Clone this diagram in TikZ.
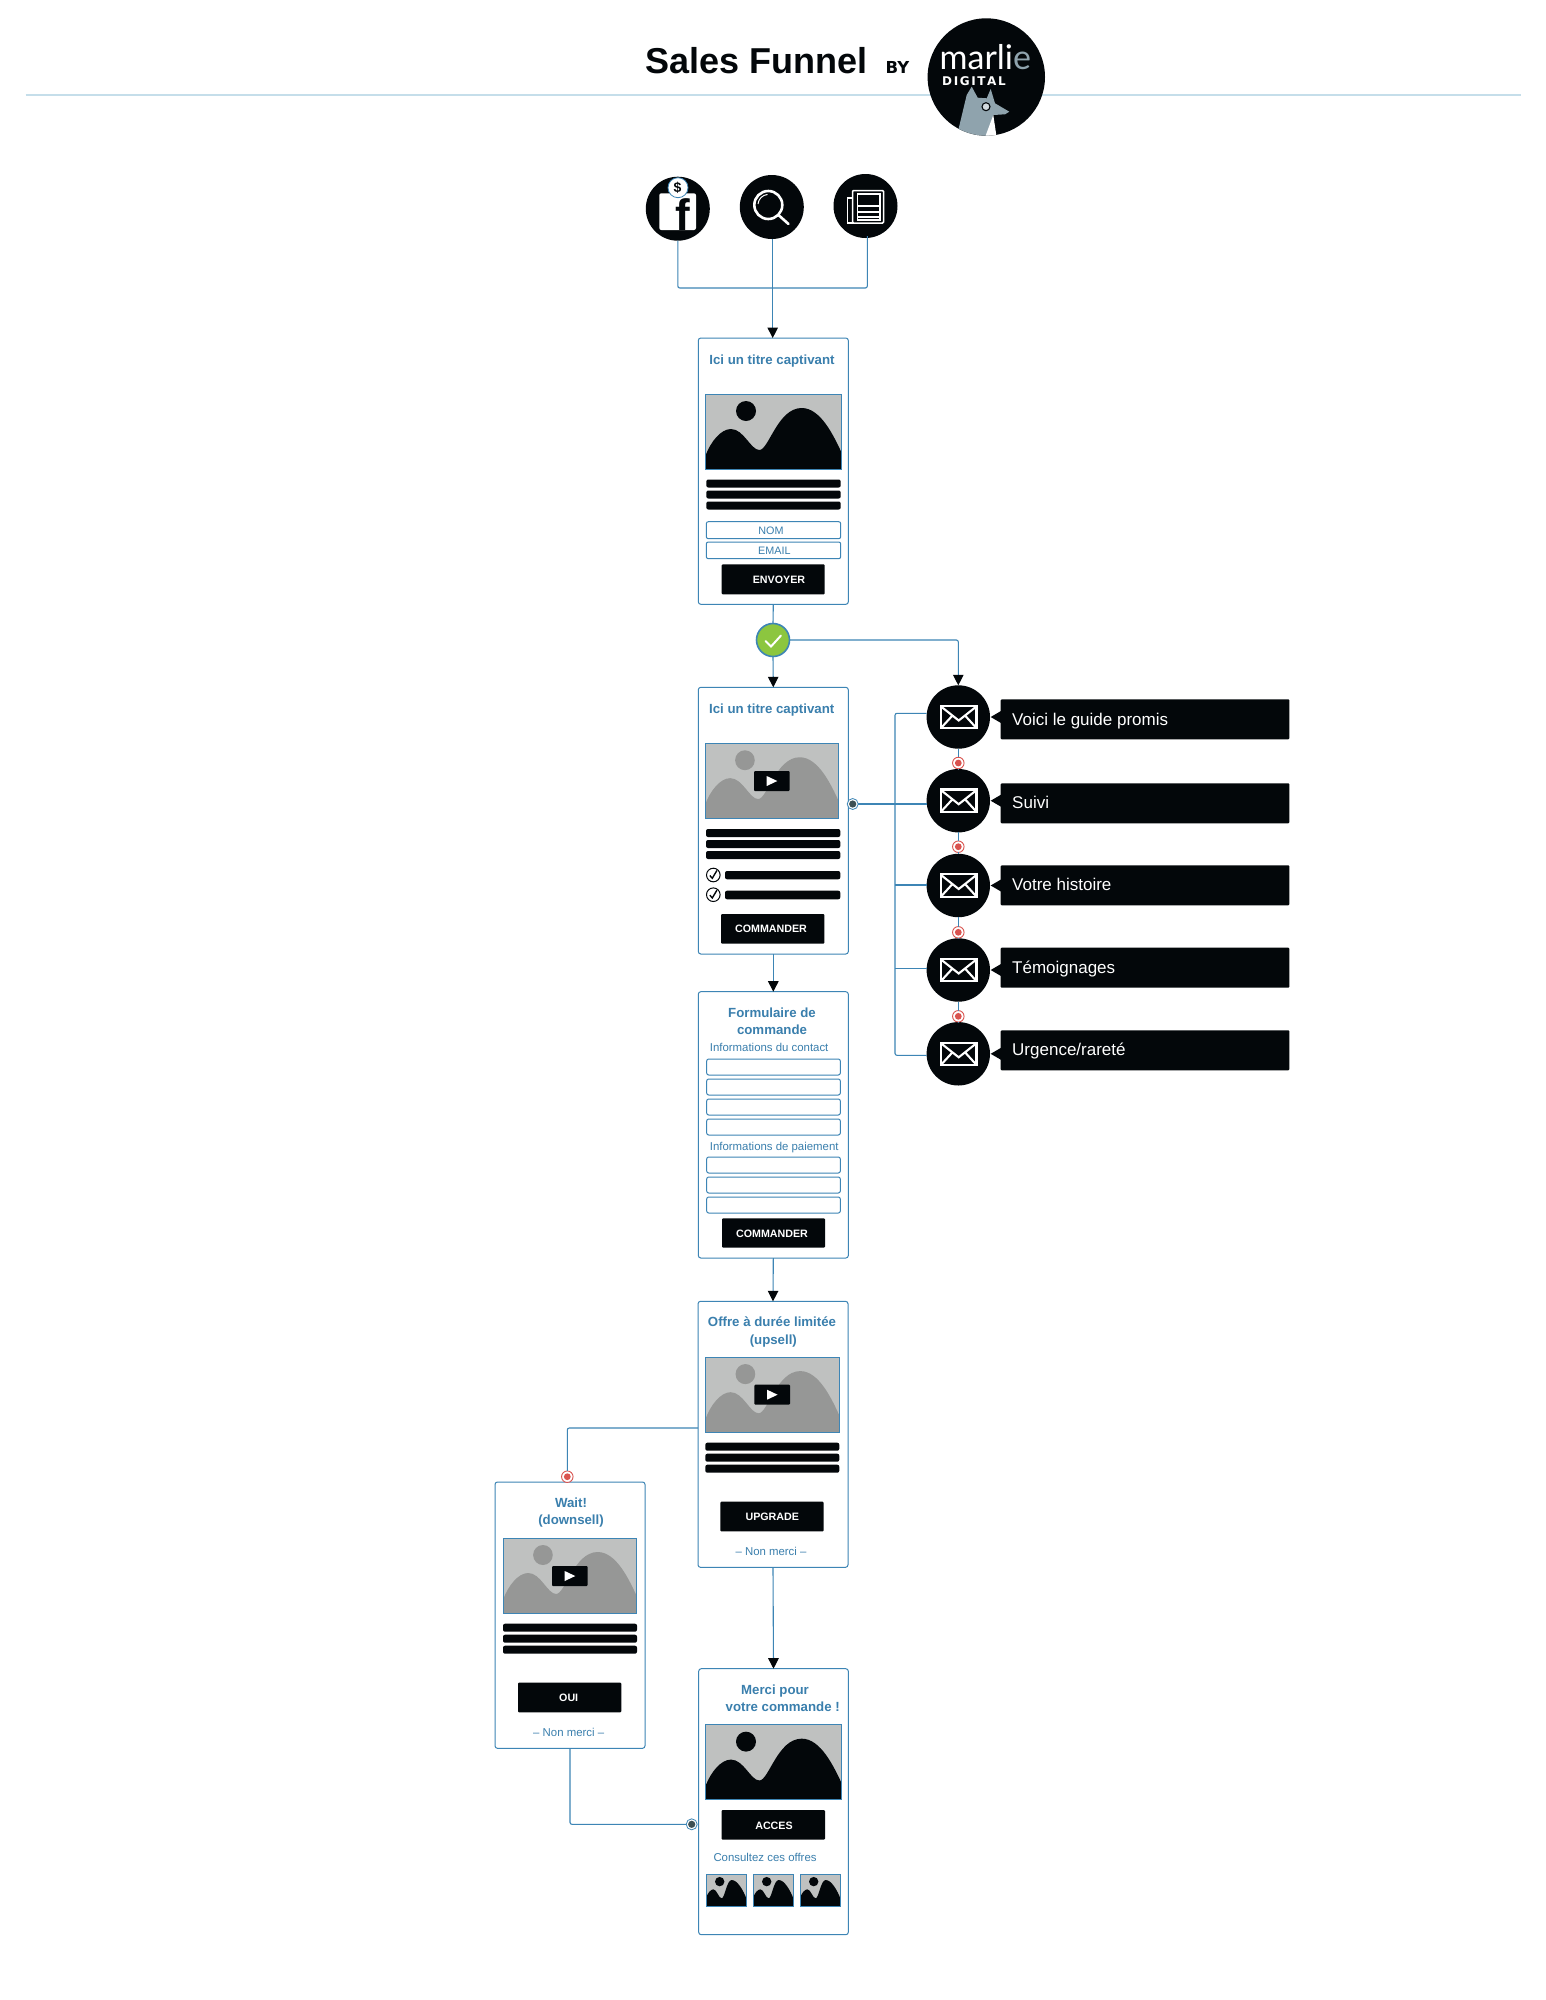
\documentclass[tikz,border=0pt]{standalone}
\usepackage{fontspec}
\setmainfont{Liberation Sans}
\newfontfamily\logofont{Lato}
\newfontfamily\handfont{DejaVu Sans}
\usetikzlibrary{arrows.meta}
\definecolor{fx}{HTML}{3D85B5}
\definecolor{ttl}{HTML}{3A7FAD}
\definecolor{ink}{HTML}{03070A}
\definecolor{imgbg}{HTML}{BFC1C0}
\definecolor{imgmid}{HTML}{969796}
\definecolor{rule}{HTML}{C5DEEA}
\definecolor{redn}{HTML}{D9534F}
\definecolor{grn}{HTML}{8CC63F}
\definecolor{fox}{HTML}{8FA3AD}
\definecolor{dotc}{HTML}{3D5054}
\tikzset{
  frame/.style={draw=fx,fill=white,line width=1pt,rounded corners=2.5pt,inner sep=0pt,outer sep=0pt},
  field/.style={draw=fx,fill=white,line width=1pt,rounded corners=2pt,inner sep=0pt,outer sep=0pt},
  barbox/.style={fill=ink,rounded corners=2pt,inner sep=0pt,outer sep=0pt},
  btn/.style={fill=ink,rounded corners=1pt,inner sep=0pt,outer sep=0pt},
  imgframe/.style={draw=fx,fill=imgbg,line width=1pt,inner sep=0pt,outer sep=0pt},
  disc/.style={circle,fill=ink,inner sep=0pt,outer sep=0pt},
  conn/.style={draw=fx,line width=1.1pt,rounded corners=2pt},
  arrow/.style={conn,-{Triangle[width=10.5pt,length=10.5pt,color=ink]}},
  ttlt/.style={text=ttl,font=\fontsize{13.25}{15}\selectfont\bfseries,inner sep=0pt,anchor=base},
  smt/.style={text=ttl,font=\fontsize{11.4}{13}\selectfont,inner sep=0pt,anchor=base},
  btnt/.style={text=white,font=\fontsize{10.7}{12}\selectfont\bfseries,inner sep=0pt},
  lblt/.style={text=white,font=\fontsize{17}{20}\selectfont,inner sep=0pt,anchor=base west},
}
% rectangle node given by its corners
\newcommand\RectN[6]{% style, name, x1,y1,x2,y2
  \pgfmathsetmacro\rw{(#5)-(#3)}\pgfmathsetmacro\rh{(#6)-(#4)}
  \node[#1,anchor=north west,minimum width=\rw pt,minimum height=\rh pt] (#2) at (#3,#4) {};}
\newcommand\Bars[5]{% name prefix, x1,x2, y1 of first, height
  \RectN{barbox}{#1a}{#2}{#4}{#3}{#4+#5}
  \RectN{barbox}{#1b}{#2}{#4+11}{#3}{#4+11+#5}
  \RectN{barbox}{#1c}{#2}{#4+22}{#3}{#4+22+#5}}
% landscape image: style colour of shapes
\newcommand\Img[6]{% name,x1,y1,x2,y2,shape colour
  \RectN{imgframe}{#1}{#2}{#3}{#4}{#5}
  \pgfmathsetmacro\sx{(#4-#2)/135.6}\pgfmathsetmacro\sy{(#5-#3)/75.3}
  \begin{scope}[shift={(#2,#3)},xscale=\sx,yscale=\sy]
    \fill[#6] (40.3,17) circle[radius=10];
    \fill[#6] (0,61) .. controls (5,48) and (15,35) .. (25.3,35)
      .. controls (38,35) and (45,56) .. (53.7,56)
      .. controls (63,56) and (72,14) .. (96,14)
      .. controls (115,14) and (128,42) .. (135.6,58)
      -- (135.6,75.3) -- (0,75.3) -- cycle;
  \end{scope}
  \draw[fx,line width=1pt] (#1.north west) rectangle (#1.south east);}
\newcommand\Thumb[3]{% name,x,y
  \RectN{imgframe}{#1}{#2}{#3}{#2+39.6}{#3+32.4}
  \begin{scope}[shift={(#2,#3)}]
    \fill[ink] (13,7.3) circle[radius=4.7];
    \fill[ink] (0,22) .. controls (1,19) and (4,15) .. (6.7,15)
      .. controls (10,15) and (12,24) .. (15,24)
      .. controls (18,24) and (20,5.7) .. (25,5.7)
      .. controls (31,5.7) and (37,17) .. (39.6,24) -- (39.6,32.4) -- (0,32.4) -- cycle;
  \end{scope}
  \draw[fx,line width=.8pt] (#1.north west) rectangle (#1.south east);}
\newcommand\PlayB[3]{% name, x, y
  \RectN{btn}{#1}{#2}{#3}{#2+35.7}{#3+20}
  \fill[white] (#2+12.7,#3+5) -- (#2+23.3,#3+10) -- (#2+12.7,#3+15) -- cycle;}
\newcommand\Mail[3]{% name, y, label box top
  \node[disc,minimum size=63.4pt] (#1) at (958.3,#2) {};
  \draw[white,line width=2.1pt,line join=miter] (940.9,#2-11.2) rectangle (976.5,#2+11.2);
  \draw[white,line width=2.1pt] (941,#2-10.5) -- (958.7,#2+3.5) -- (976.4,#2-10.5)
    (941,#2+11) -- (952.5,#2-1.5) (976.4,#2+11) -- (965,#2-1.5);
  \fill[ink] (990.7,#2) -- (1001,#2-6) -- (1001,#2+6) -- cycle;
  \RectN{btn}{#1l}{1000.7}{#3}{1289.3}{#3+40}}
\newcommand\RedN[3]{% name,x,y
  \node[circle,draw=redn,fill=white,line width=.9pt,minimum size=11.5pt,inner sep=0pt,outer sep=0pt] (#1) at (#2,#3) {};
  \fill[redn] (#1) circle[radius=3.4];}
\newcommand\DotN[3]{% name,x,y
  \node[circle,draw=fx,fill=white,line width=.8pt,minimum size=11pt,inner sep=0pt,outer sep=0pt] (#1) at (#2,#3) {};
  \fill[dotc] (#1) circle[radius=3.6];}
\newcommand\Check[2]{% x,y
  \draw[ink,line width=1pt,fill=white] (#1,#2) circle[radius=6.8];
  \draw[ink,line width=1.4pt] (#1-3.5,#2+.5) -- (#1-1,#2+3.2) -- (#1+3.6,#2-4.5);}
\begin{document}
\begin{tikzpicture}[x=1pt,y=-1pt]
\useasboundingbox (0,0) rectangle (1546,2000);
\fill[white] (0,0) rectangle (1546,2000);
% header
\coordinate (ruleL) at (25.5,95);
\coordinate (ruleR) at (1520.5,95);
\draw[rule,line width=1.3pt] (ruleL) -- (ruleR);
\node[anchor=base west,inner sep=0pt,text=ink,font=\fontsize{36}{40}\selectfont\bfseries] (title) at (645,73) {Sales Funnel};
\node[anchor=base west,inner sep=0pt,text=ink,font=\fontsize{16.5}{20}\selectfont\handfont\bfseries] (by) at (885.5,73) {BY};
\node[disc,minimum size=117.4pt] (logo) at (986.3,77) {};
\begin{scope}
  \clip (986.3,77) circle[radius=58.7];
  \fill[fox] (958.3,130) -- (966.7,95) -- (971.7,86.7) -- (977.7,97.7) -- (986.7,98.3) -- (990.7,89) -- (995,103.3) -- (1009.3,111.7) -- (1005,114.3) -- (993.3,115) -- (988,140) -- cycle;
  \fill[white] (993.3,115) -- (997,140) -- (984,140) -- cycle;
\end{scope}
\draw[ink,line width=1.1pt,fill=fox!40] (986,106.7) circle[radius=4];
\node[anchor=base west,inner sep=0pt,text=white,font=\fontsize{34}{36}\selectfont\logofont] (marlie) at (939.5,69) {marli\textcolor{fox}{e}};
\node[anchor=base west,inner sep=0pt,text=white,font=\fontsize{12}{14}\selectfont\handfont\bfseries] (digital) at (942,85.5) {D\hspace{1.6pt}I\hspace{1.6pt}G\hspace{1.6pt}I\hspace{1.6pt}T\hspace{1.6pt}A\hspace{1.6pt}L};
% connectors from the sources (under the discs)
\coordinate (merge) at (772.7,288);
\coordinate (newsdrop) at (867.3,236);
% source icons
\node[disc,minimum size=64pt] (fb) at (677.8,208.7) {};
\node[disc,minimum size=64pt] (search) at (771.8,207) {};
\node[disc,minimum size=64pt] (news) at (865.5,206) {};
\fill[white,rounded corners=2pt] (659.3,193.3) rectangle (696,230);
\node[anchor=base,inner sep=0pt,text=ink,font=\fontsize{44}{46}\selectfont\bfseries] (ff) at (683,230) {f};
\node[circle,draw=fx,fill=white,line width=.8pt,minimum size=20pt,inner sep=0pt] (coin) at (678,187.7) {};
\node[inner sep=0pt,text=ink,font=\fontsize{14}{16}\selectfont\bfseries] (dollar) at (677.6,187.7) {\$};
\draw[white,line width=2.6pt] (768.3,205) circle[radius=14];
\draw[white,line width=1pt] (758,204) arc[start angle=185,end angle=265,radius=10.5];
\draw[white,line width=2.6pt,line cap=round] (779,215.5) -- (788.5,224);
\draw[white,line width=1.5pt,fill=ink] (847.5,198) rectangle (857,223);
\draw[white,line width=1.5pt,fill=ink,rounded corners=1pt] (852.5,190.5) rectangle (883.5,223);
\draw[white,line width=1.2pt] (857.5,194) rectangle (880,220);
\fill[white] (857.5,204.5) rectangle (880,206.5);
\fill[white] (857.5,210.5) rectangle (880,212.5);
\fill[white] (857.5,216) rectangle (880,218);
% page boxes
\RectN{frame}{box1}{698.3}{338}{848.3}{604.3}
\RectN{frame}{box2}{698.3}{687.3}{848.3}{954}
\RectN{frame}{box3}{698.3}{991.7}{848.3}{1258}
\RectN{frame}{box4}{698}{1301.3}{848}{1567.3}
\RectN{frame}{box5}{698.7}{1668.7}{848.3}{1934.7}
\RectN{frame}{box6}{495}{1482}{645}{1748.3}
% box 1
\node[ttlt] (t1) at (772,364) {Ici un titre captivant};
\Img{im1}{705.7}{394}{841.3}{469.3}{ink}
\Bars{b1}{706.3}{840.7}{479.5}{8}
\RectN{field}{nom}{706.3}{521.7}{840.7}{538.7}
\RectN{field}{email}{706.3}{542}{840.7}{558.7}
\node[smt,font=\fontsize{10.8}{12}\selectfont] (tnom) at (771,534) {NOM};
\node[smt,font=\fontsize{10.8}{12}\selectfont] (temail) at (774.3,554) {EMAIL};
\RectN{btn}{btn1}{721.7}{564.3}{824.7}{594.3}
\node[btnt] (tbtn1) at (779,580) {ENVOYER};
% box 2
\node[ttlt] (t2) at (771.7,713.3) {Ici un titre captivant};
\Img{im2}{705.3}{743.3}{838.7}{818.3}{imgmid}
\PlayB{pl2}{754}{771}
\Bars{b2}{706}{840.3}{829}{8}
\Check{713.3}{875}
\Check{713.3}{894.7}
\RectN{barbox}{b2d}{725}{871}{840.3}{879.3}
\RectN{barbox}{b2e}{725}{890.7}{840.3}{899.3}
\RectN{btn}{btn2}{721}{914}{824.3}{943.7}
\node[btnt] (tbtn2) at (771,929.3) {COMMANDER};
% box 3
\node[ttlt] (t3a) at (772,1017.3) {Formulaire de};
\node[ttlt] (t3b) at (772,1034.3) {commande};
\node[smt,anchor=base west] (t3c) at (709.7,1051.7) {Informations du contact};
\RectN{field}{f1}{706.7}{1059}{840.3}{1075}
\RectN{field}{f2}{706.7}{1079}{840.3}{1095}
\RectN{field}{f3}{706.7}{1099}{840.3}{1115}
\RectN{field}{f4}{706.7}{1119}{840.3}{1135}
\node[smt,anchor=base west] (t3d) at (709.7,1150.7) {Informations de paiement};
\RectN{field}{f5}{706.7}{1157}{840.3}{1173}
\RectN{field}{f6}{706.7}{1177}{840.3}{1193}
\RectN{field}{f7}{706.7}{1197}{840.3}{1213}
\RectN{btn}{btn3}{722}{1218.3}{825}{1247.7}
\node[btnt] (tbtn3) at (772,1233.3) {COMMANDER};
% box 4
\node[ttlt] (t4a) at (772,1326.7) {Offre à durée limitée};
\node[ttlt] (t4b) at (773.3,1344) {(upsell)};
\Img{im4}{705.7}{1357}{839.3}{1432.7}{imgmid}
\PlayB{pl4}{754.3}{1384.7}
\Bars{b4}{705.3}{839.3}{1442.7}{8}
\RectN{btn}{btn4}{720.3}{1501.7}{823.7}{1531.3}
\node[btnt] (tbtn4) at (772.3,1516.7) {UPGRADE};
\node[smt] (no4) at (771,1555) {– Non merci –};
% box 6 (downsell)
\node[ttlt] (t6a) at (571,1507.3) {Wait!};
\node[ttlt] (t6b) at (571,1524.7) {(downsell)};
\Img{im6}{503.3}{1538}{636.7}{1613.3}{imgmid}
\PlayB{pl6}{552}{1566}
\Bars{b6}{503}{637}{1623.7}{8}
\RectN{btn}{btn6}{518}{1682.7}{621.3}{1712.3}
\node[btnt] (tbtn6) at (568.7,1697.7) {OUI};
\node[smt] (no6) at (568.7,1736) {– Non merci –};
% box 5
\node[ttlt] (t5a) at (775,1694) {Merci pour};
\node[ttlt] (t5b) at (782.7,1711.3) {votre commande !};
\Img{im5}{705.7}{1724.7}{841.3}{1799.7}{ink}
\RectN{btn}{btn5}{721.7}{1810}{825}{1839.7}
\node[btnt] (tbtn5) at (774,1825.3) {ACCES};
\node[smt,anchor=base west] (t5c) at (713.3,1861.3) {Consultez ces offres};
\Thumb{th1}{706.7}{1874.3}
\Thumb{th2}{753.7}{1874.3}
\Thumb{th3}{800.7}{1874.3}
% check node
\node[circle,draw=fx,fill=grn,line width=1.6pt,minimum size=33pt,inner sep=0pt,outer sep=0pt] (chk) at (773,640) {};
\draw[white,line width=2pt,line cap=round] (765.5,641) -- (771,646.5) -- (781,635.5);
% emails
\Mail{m1}{717}{699.3}
\Mail{m2}{800.7}{783.3}
\Mail{m3}{885.5}{865.3}
\Mail{m4}{970}{947.7}
\Mail{m5}{1053.8}{1030.3}
\node[lblt] (l1) at (1012,725) {Voici le guide promis};
\node[lblt] (l2) at (1012,808.7) {Suivi};
\node[lblt] (l3) at (1012,890.7) {Votre histoire};
\node[lblt] (l4) at (1012,973.3) {Témoignages};
\node[lblt] (l5) at (1012,1055.7) {Urgence/rareté};
\RedN{r1}{958.3}{763}
\RedN{r2}{958.3}{846.7}
\RedN{r3}{958.3}{932.3}
\RedN{r4}{958.3}{1016.3}
\DotN{d1}{852.7}{804}
\RedN{r5}{567.3}{1476.7}
\DotN{d2}{691.7}{1824.3}
% connectors
\draw[conn] (fb.south) |- (merge) -| (newsdrop);
\draw[arrow] (merge |- search.south) -- (merge |- box1.north);
\draw[conn] (box1.south) -- (chk.north);
\draw[arrow] (chk.south) -- (box2.north);
\draw[arrow] (chk.east) -| (m1.north);
\draw[arrow] (box2.south) -- (box3.north);
\draw[arrow] (box3.south) -- (box4.north);
\coordinate (busx) at (895,804.7);
\draw[conn] (d1.east) -- (m2.west |- d1.east);
\draw[conn] (m1.west |- 0,713.3) -| (busx) |- (m5.west |- 0,1055.3);
\draw[conn] (busx |- 0,885) -- (m3.west |- 0,885);
\draw[conn] (busx |- 0,968.3) -- (m4.west |- 0,968.3);
\draw[conn] (m1.south) -- (r1.north);
\draw[conn] (r1.south) -- (m2.north);
\draw[conn] (m2.south) -- (r2.north);
\draw[conn] (r2.south) -- (m3.north);
\draw[conn] (m3.south) -- (r3.north);
\draw[conn] (r3.south) -- (m4.north);
\draw[conn] (m4.south) -- (r4.north);
\draw[conn] (r4.south) -- (m5.north);
\draw[conn] (box4.west |- 0,1428) -| (r5.north);
\draw[arrow] (box4.south) -- (box5.north);
\draw[conn] (box6.south) |- (d2.west);
\end{tikzpicture}
\end{document}
